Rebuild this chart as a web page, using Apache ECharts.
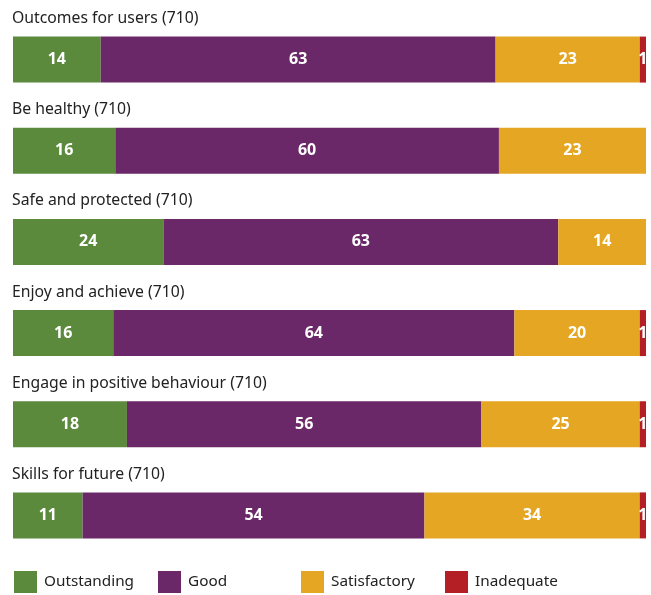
<!DOCTYPE html>
<html>
<head>
<meta charset="utf-8">
<script src="https://cdn.jsdelivr.net/npm/echarts@6/dist/echarts.min.js"></script>
<style>
  html, body { margin: 0; padding: 0; background: #fff; }
  #chart { width: 651px; height: 595px; }
</style>
</head>
<body>
<div id="chart"></div>
<script>
const categories = [
  'Outcomes for users (710)',
  'Be healthy (710)',
  'Safe and protected (710)',
  'Enjoy and achieve (710)',
  'Engage in positive behaviour (710)',
  'Skills for future (710)'
]
const outstanding = [14, 16, 24, 16, 18, 11]
const good = [63, 60, 63, 64, 56, 54]
const satisfactory = [23, 23, 14, 20, 25, 34]
const inadequate = [1, 0, 0, 1, 1, 1]

const seriesDefs = [
  { name: 'Outstanding', values: outstanding, color: '#5b8a3c' },
  { name: 'Good', values: good, color: '#6b2868' },
  { name: 'Satisfactory', values: satisfactory, color: '#e5a623' },
  { name: 'Inadequate', values: inadequate, color: '#b31f25' }
]

// each bar is a 100% bar, so share of the row total
const rowTotals = categories.map((c, i) => seriesDefs.reduce((s, d) => s + d.values[i], 0))

const fontFamily = '"Noto Sans", "Open Sans", sans-serif'

// one legend per item so the entries sit at even steps
const legendLeft = [14, 158, 301, 445]

const chart = echarts.init(document.getElementById('chart'))

chart.setOption({
  backgroundColor: '#fff',
  animation: false,
  legend: seriesDefs.map((d, i) => ({
    left: legendLeft[i],
    top: 571,
    padding: 0,
    itemWidth: 23,
    itemHeight: 22,
    icon: 'rect',
    textStyle: { fontFamily, fontSize: 15.3, color: '#222', padding: [0, 0, 0, 2] },
    data: [d.name]
  })),
  grid: { left: 13, right: 5, top: 14, bottom: 34 },
  xAxis: { type: 'value', min: 0, max: 100, show: false },
  yAxis: {
    type: 'category',
    inverse: true,
    z: 5,
    data: categories,
    axisLine: { show: false },
    axisTick: { show: false },
    axisLabel: {
      inside: true,
      interval: 0,
      margin: -1,
      formatter: v => '{t|' + v + '}',
      rich: {
        t: { fontFamily, fontSize: 15.75, color: '#222', padding: [0, 0, 82, 0] }
      }
    }
  },
  series: seriesDefs.map(d => ({
    name: d.name,
    type: 'bar',
    stack: 'all',
    barWidth: 46,
    itemStyle: { color: d.color },
    label: {
      show: true,
      position: 'inside',
      color: '#fff',
      fontFamily,
      fontWeight: 'bold',
      fontSize: 16,
      formatter: p => (d.values[p.dataIndex] ? d.values[p.dataIndex] : '')
    },
    data: d.values.map((v, i) => v / rowTotals[i] * 100)
  }))
})
</script>
</body>
</html>
